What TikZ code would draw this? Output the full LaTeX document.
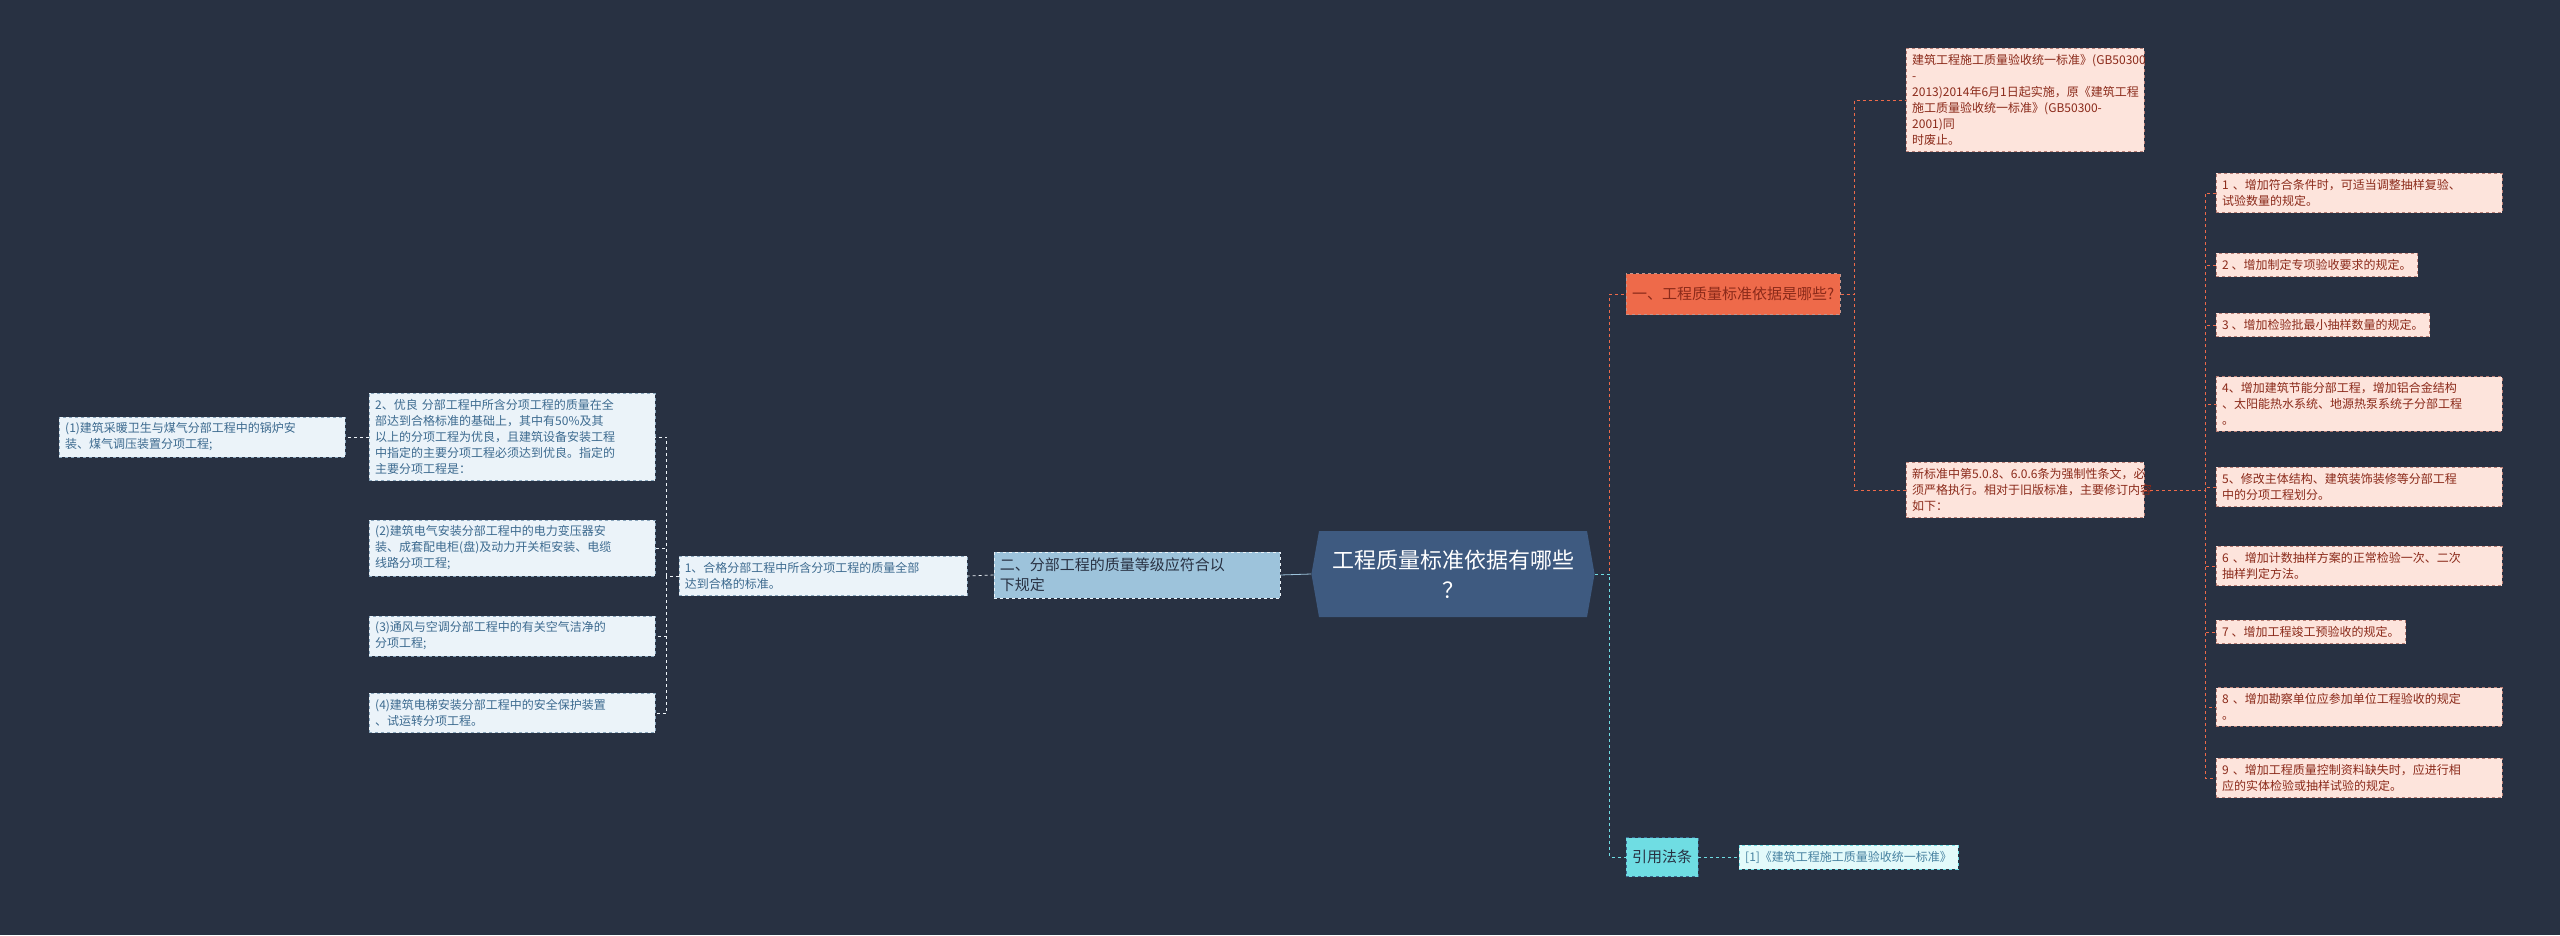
\documentclass[tikz,border=0pt]{standalone}
\usepackage{fontspec}
\setmainfont{Noto Sans CJK SC}
\usetikzlibrary{shapes.geometric,shapes.symbols,positioning}
\definecolor{bg}{HTML}{283142}
\definecolor{rootc}{HTML}{3E5A80}
\definecolor{orng}{HTML}{EE6A4A}
\definecolor{pinkf}{HTML}{FDE4DC}
\definecolor{pinkt}{HTML}{8B2A1A}
\definecolor{bluef}{HTML}{EBF3F9}
\definecolor{bluet}{HTML}{3C6A8F}
\definecolor{midb}{HTML}{9DC3DB}
\definecolor{cyanc}{HTML}{6FDDE3}
\definecolor{cyanf}{HTML}{E3FAFA}
\begin{document}
\begin{tikzpicture}[x=1pt,y=-1pt,
	box/.style={draw, dashed, rectangle, anchor=west, align=left, inner sep=6pt, font=\fontsize{12}{16}\selectfont},
	pinkbox/.style={box, fill=pinkf, draw=pinkt!60, text=pinkt},
	bluebox/.style={box, fill=bluef, draw=bluet!60, text=bluet},
	rlink/.style={draw=orng, dashed, thick},
	blink/.style={draw=bluef!80, dashed, thick},
	clink/.style={draw=cyanc, dashed, thick}
]
\fill[bg] (0,0) rectangle (2560,935);

% root
\node[signal, signal to=east and west, signal pointer angle=160, fill=rootc, text=white, minimum height=86pt, inner xsep=4pt, align=center, font=\fontsize{22}{30}\selectfont, text width=260pt] (root) at (1453,574) {工程质量标准依据有哪些\\？};

% right side
\node[box, fill=orng, draw=pinkt!50, text=pinkt, minimum height=41pt, font=\fontsize{15}{20}\selectfont] (one) at (1626,294) {一、工程质量标准依据是哪些?};
\node[pinkbox, text width=226pt] (std) at (1906,100) {建筑工程施工质量验收统一标准》(GB50300\\-2013)2014年6月1日起实施，原《建筑工程\\施工质量验收统一标准》(GB50300-2001)同\\时废止。};
\node[pinkbox, text width=226pt] (news) at (1906,490) {新标准中第5.0.8、6.0.6条为强制性条文，必\\须严格执行。相对于旧版标准，主要修订内容\\如下：};

\node[pinkbox, text width=274pt] (i1) at (2216,193) {1 、增加符合条件时，可适当调整抽样复验、\\试验数量的规定。};
\node[pinkbox] (i2) at (2216,265) {2 、增加制定专项验收要求的规定。};
\node[pinkbox] (i3) at (2216,325) {3 、增加检验批最小抽样数量的规定。};
\node[pinkbox, text width=274pt] (i4) at (2216,404) {4、增加建筑节能分部工程，增加铝合金结构\\、太阳能热水系统、地源热泵系统子分部工程\\。};
\node[pinkbox, text width=274pt] (i5) at (2216,487) {5、修改主体结构、建筑装饰装修等分部工程\\中的分项工程划分。};
\node[pinkbox, text width=274pt] (i6) at (2216,566) {6 、增加计数抽样方案的正常检验一次、二次\\抽样判定方法。};
\node[pinkbox] (i7) at (2216,632) {7 、增加工程竣工预验收的规定。};
\node[pinkbox, text width=274pt] (i8) at (2216,707) {8 、增加勘察单位应参加单位工程验收的规定\\。};
\node[pinkbox, text width=274pt] (i9) at (2216,778) {9 、增加工程质量控制资料缺失时，应进行相\\应的实体检验或抽样试验的规定。};

\node[box, fill=cyanc, draw=bluet, text=bg, minimum height=39pt, font=\fontsize{15}{20}\selectfont] (ref) at (1626,857) {引用法条};
\node[box, fill=cyanf, draw=cyanc, text=bluet!80!cyanc] (ref1) at (1739,857) {[1]《建筑工程施工质量验收统一标准》};

% left side
\node[box, fill=midb, draw=bluef, text=bg, text width=274pt, anchor=east, font=\fontsize{15}{20}\selectfont] (two) at (1280,575) {二、分部工程的质量等级应符合以\\下规定};
\node[bluebox, text width=276pt, anchor=east] (p1) at (967,576) {1、合格分部工程中所含分项工程的质量全部\\达到合格的标准。};
\node[bluebox, text width=274pt] (good) at (369,437) {2、优良 分部工程中所含分项工程的质量在全\\部达到合格标准的基础上，其中有50\%及其\\以上的分项工程为优良，且建筑设备安装工程\\中指定的主要分项工程必须达到优良。指定的\\主要分项工程是：};
\node[bluebox, text width=274pt] (s1) at (59,437) {(1)建筑采暖卫生与煤气分部工程中的锅炉安\\装、煤气调压装置分项工程;};
\node[bluebox, text width=274pt] (s2) at (369,548) {(2)建筑电气安装分部工程中的电力变压器安\\装、成套配电柜(盘)及动力开关柜安装、电缆\\线路分项工程;};
\node[bluebox, text width=274pt] (s3) at (369,636) {(3)通风与空调分部工程中的有关空气洁净的\\分项工程;};
\node[bluebox, text width=274pt] (s4) at (369,713) {(4)建筑电梯安装分部工程中的安全保护装置\\、试运转分项工程。};

% links
\draw[rlink] (root.east) -- ++(15,0) |- (one.west);
\draw[clink] (root.east) -- ++(15,0) |- (ref.west);
\draw[clink] (ref.east) -- (ref1.west);
\draw[rlink] (one.east) -- ++(14,0) |- (std.west);
\draw[rlink] (one.east) -- ++(14,0) |- (news.west);
\foreach \n in {i1,i2,i3,i4,i5,i6,i7,i8,i9}
	\draw[rlink] (news.east) -- ++(61,0) |- (\n.west);
\draw[draw=midb, thick] (root.west) -- (two.east);
\draw[blink] (two.west) -- (p1.east);
\foreach \n in {good,s2,s3,s4}
	\draw[blink] (p1.west) -- ++(-12,0) |- (\n.east);
\draw[blink] (good.west) -- (s1.east);
\end{tikzpicture}
\end{document}
